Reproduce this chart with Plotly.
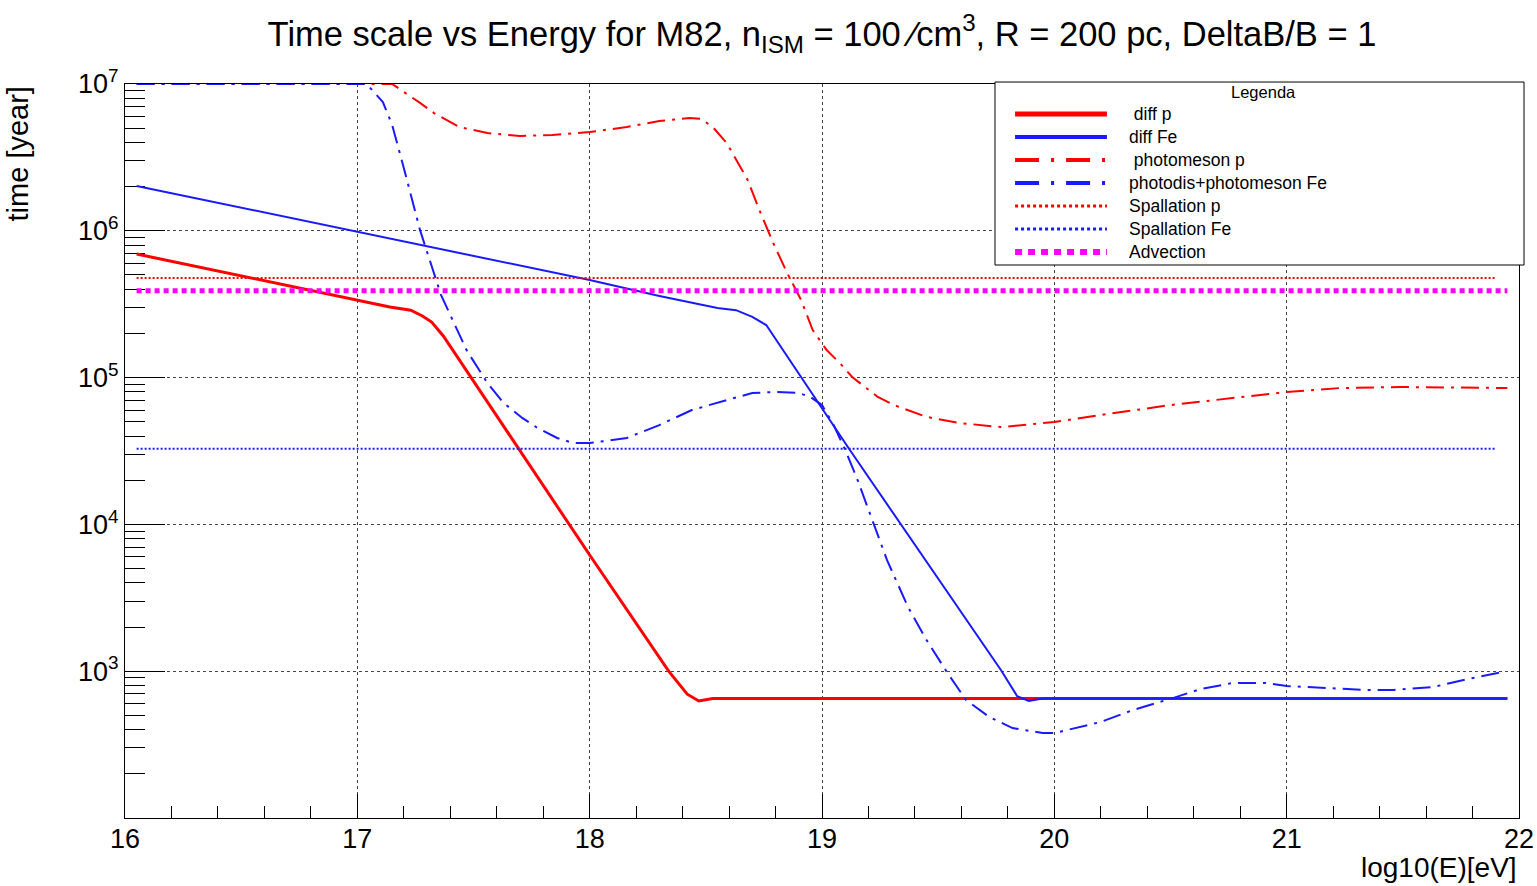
import plotly.graph_objects as go

# ---- energy grid / time-scale curves (log10(E/eV), years) ----
e_diff_p = [16.05, 17.00, 17.14, 17.23, 17.28, 17.32, 17.34, 17.37, 18.00, 18.34,
            18.42, 18.47, 18.53, 19.00, 20.00, 21.00, 21.95]
t_diff_p = [6.95e5, 3.38e5, 3.03e5, 2.88e5, 2.63e5, 2.39e5, 2.18e5, 1.92e5, 6.19e3, 1.0e3,
            697, 627, 652, 652, 652, 652, 652]

e_diff_fe = [16.05, 17.00, 17.44, 18.00, 18.30, 18.55, 18.63, 18.70, 18.76, 18.86,
             18.99, 19.12, 19.77, 19.84, 19.89, 19.95, 21.00, 21.95]
t_diff_fe = [2.02e6, 9.8e5, 7.06e5, 4.62e5, 3.60e5, 2.98e5, 2.88e5, 2.59e5, 2.28e5, 1.32e5,
             6.5e4, 3.21e4, 1.02e3, 676, 627, 652, 652, 652]

e_pm_p = [16.05, 17.15, 17.27, 17.33, 17.44, 17.56, 17.70, 17.84, 18.00, 18.16,
          18.30, 18.43, 18.48, 18.53, 18.59, 18.63, 18.68, 18.73, 18.79, 18.85,
          18.91, 18.96, 19.02, 19.08, 19.13, 19.24, 19.31, 19.45, 19.59, 19.77,
          20.00, 20.20, 20.50, 21.00, 21.23, 21.49, 21.95]
t_pm_p = [1e7, 1e7, 7.43e6, 6.34e6, 5.09e6, 4.63e6, 4.43e6, 4.50e6, 4.71e6, 5.09e6,
          5.60e6, 5.86e6, 5.78e6, 5.09e6, 3.96e6, 3.03e6, 2.22e6, 1.39e6, 8.26e5, 5.16e5,
          3.38e5, 2.11e5, 1.54e5, 1.24e5, 1.01e5, 7.38e4, 6.50e4, 5.40e4, 4.91e4, 4.60e4,
          4.99e4, 5.56e4, 6.50e4, 7.98e4, 8.49e4, 8.63e4, 8.49e4]

e_pd_fe = [16.05, 17.04, 17.11, 17.15, 17.20, 17.23, 17.25, 17.27, 17.36, 17.42,
           17.47, 17.56, 17.63, 17.71, 17.77, 17.86, 17.93, 18.00, 18.16, 18.30,
           18.44, 18.59, 18.70, 18.80, 18.90, 18.95, 19.00, 19.05, 19.10, 19.15,
           19.20, 19.28, 19.37, 19.45, 19.54, 19.62, 19.72, 19.82, 19.95, 20.00,
           20.20, 20.34, 20.51, 20.63, 20.77, 20.91, 21.00, 21.20, 21.34, 21.46,
           21.63, 21.78, 21.93]
t_pd_fe = [1e7, 1e7, 7.53e6, 5.26e6, 2.68e6, 1.75e6, 1.28e6, 1.01e6, 3.66e5, 2.28e5,
           1.54e5, 9.18e4, 6.71e4, 5.31e4, 4.60e4, 3.88e4, 3.58e4, 3.58e4, 3.88e4, 4.75e4,
           6.01e4, 7.03e4, 7.85e4, 7.98e4, 7.85e4, 7.38e4, 6.50e4, 4.75e4, 3.21e4, 2.07e4,
           1.25e4, 5.71e3, 2.74e3, 1.63e3, 973, 637, 488, 410, 379, 379,
           451, 545, 656, 757, 832, 832, 793, 769, 745, 745,
           780, 885, 989]

# energy-independent time scales
e_flat = [16.05, 21.90]
e_adv = [16.05, 21.95]
t_spall_p = 4.77e5
t_spall_fe = 3.27e4
t_advection = 3.91e5

# axis ticks
x_ticks = [16, 17, 18, 19, 20, 21, 22]
y_ticks = [1e3, 1e4, 1e5, 1e6, 1e7]
y_tick_text = ["10<sup>3</sup>", "10<sup>4</sup>", "10<sup>5</sup>",
               "10<sup>6</sup>", "10<sup>7</sup>"]

DASHDOT = "18px,7px,3px,7px"
RED, BLUE, MAGENTA = "#ff0000", "#1a1aff", "#ff00ff"
FONT = "Liberation Sans, Arial, sans-serif"

series = [
    (" diff p", e_diff_p, t_diff_p, RED, "solid", 3, 5),
    ("diff Fe", e_diff_fe, t_diff_fe, BLUE, "solid", 2, 4),
    (" photomeson p", e_pm_p, t_pm_p, RED, DASHDOT, 2, 4),
    ("photodis+photomeson Fe", e_pd_fe, t_pd_fe, BLUE, DASHDOT, 2, 4),
    ("Spallation p", e_flat, [t_spall_p] * 2, RED, "2px,2px", 2, 3),
    ("Spallation Fe", e_flat, [t_spall_fe] * 2, BLUE, "2px,2px", 2, 3),
    ("Advection", e_adv, [t_advection] * 2, MAGENTA, "5px,4px", 5, 6),
]

fig = go.Figure()
for name, xs, ys, col, dash, w, _ in series:
    fig.add_trace(go.Scatter(x=xs, y=ys, mode="lines", name=name.strip(),
                             line=dict(color=col, dash=dash, width=w),
                             showlegend=False))

# ---- hand-built legend box (long line samples) ----
lg_x0, lg_x1, lg_y0, lg_y1 = 0.6241, 1.0036, 0.7534, 1.0027
row_top, row_step = 0.9591, 0.03134
shapes = [dict(type="rect", xref="paper", yref="paper", x0=lg_x0, x1=lg_x1,
               y0=lg_y0, y1=lg_y1, line=dict(color="black", width=1),
               fillcolor="white", layer="above")]
annotations = [dict(text="Legenda", xref="paper", yref="paper",
                    x=(lg_x0 + lg_x1) / 2 + 0.003, y=0.9891, showarrow=False,
                    xanchor="center", yanchor="middle",
                    font=dict(family=FONT, size=16.5, color="black"))]
leg_dash = {DASHDOT: "24px,12px,3px,12px", "2px,2px": "3px,3px", "5px,4px": "7px,6px"}
for i, (name, _, _, col, dash, _, lw) in enumerate(series):
    yy = row_top - i * row_step
    shapes.append(dict(type="line", xref="paper", yref="paper",
                       x0=0.6385, x1=0.7044, y0=yy, y1=yy, layer="above",
                       line=dict(color=col, width=lw, dash=leg_dash.get(dash, dash))))
    annotations.append(dict(text=name.replace(" ", "&nbsp;", 1) if name.startswith(" ") else name,
                            xref="paper", yref="paper", x=0.7188, y=yy,
                            showarrow=False, xanchor="left", yanchor="middle",
                            font=dict(family=FONT, size=17.5, color="black")))

# axis titles placed at the axis ends
annotations.append(dict(text="time [year]", xref="paper", yref="paper",
                        x=-0.0768, y=1.0, xanchor="center", yanchor="top",
                        textangle=-90, showarrow=False,
                        font=dict(family=FONT, size=29, color="black")))
annotations.append(dict(text="log10(E)[eV]", xref="paper", yref="paper",
                        x=1.0, y=-0.0675, xanchor="right", yanchor="middle",
                        showarrow=False,
                        font=dict(family=FONT, size=28, color="black")))

fig.update_layout(
    width=1537, height=886,
    margin=dict(l=125, r=18, t=84, b=68, autoexpand=False),
    paper_bgcolor="white", plot_bgcolor="white",
    font=dict(family=FONT, color="black"),
    title=dict(text="Time scale vs Energy for M82, n<sub>ISM</sub> = 100 \u2044cm<sup>3</sup>, "
                    "R = 200 pc, DeltaB/B = 1",
               x=0.5, xref="paper", y=0.962, yref="container",
               xanchor="center", yanchor="middle",
               font=dict(family=FONT, size=34.5, color="black")),
    shapes=shapes, annotations=annotations,
)

fig.update_xaxes(range=[16, 22], showline=True, linecolor="black", linewidth=1,
                 mirror=True, ticks="inside", ticklen=24, tickcolor="black",
                 tickvals=x_ticks, automargin=False, ticklabelstandoff=-3,
                 tickfont=dict(family=FONT, size=27, color="black"),
                 showgrid=True, gridcolor="#444", griddash="dot", gridwidth=1,
                 minor=dict(ticks="inside", ticklen=12, dtick=0.2, tickcolor="black",
                            showgrid=False),
                 zeroline=False, layer="below traces")
fig.update_yaxes(type="log", range=[2, 7], showline=True, linecolor="black", linewidth=1,
                 mirror=True, ticks="inside", ticklen=40, tickcolor="black",
                 tickvals=y_ticks, ticktext=y_tick_text, automargin=False,
                 tickfont=dict(family=FONT, size=27, color="black"),
                 showgrid=True, gridcolor="#444", griddash="dot", gridwidth=1,
                 minor=dict(ticks="inside", ticklen=20, dtick="D1", tickcolor="black",
                            showgrid=False),
                 zeroline=False, layer="below traces")

fig.write_html("out.html")
